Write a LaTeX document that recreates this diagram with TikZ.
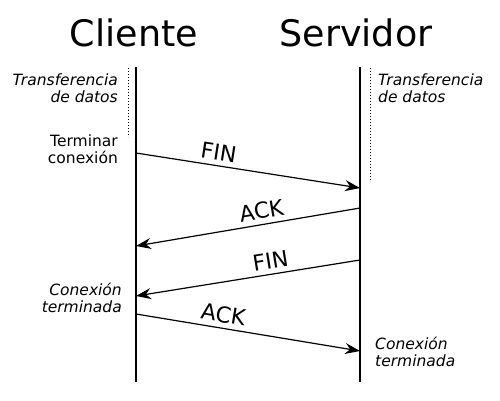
\documentclass[tikz,border=0pt]{standalone}
\usepackage{fontspec}
\setmainfont{DejaVu Sans}
\usetikzlibrary{arrows.meta}
\begin{document}
\begin{tikzpicture}[x=1pt,y=-1pt,
  title/.style={font=\fontsize{36.5}{40}\selectfont, inner sep=0pt},
  lbl/.style={font=\fontsize{15.5}{17}\selectfont\itshape, inner sep=0pt},
  lblup/.style={font=\fontsize{15.5}{17}\selectfont, inner sep=0pt},
  life/.style={line width=1.5pt},
  dots/.style={dotted, line width=1pt},
  msg/.style={line width=1.2pt, -{Stealth[length=15pt,width=11pt,inset=5pt]}},
  msglbl/.style={font=\fontsize{22}{26}\selectfont, sloped, above, inner sep=5pt}]
\useasboundingbox (0,0) rectangle (500,400);
\node[title] (cli) at (134,33) {Cliente};
\node[title] (srv) at (356,33) {Servidor};
\coordinate (ctop) at (136,67);
\coordinate (cbot) at (136,382);
\coordinate (stop) at (360,67);
\coordinate (sbot) at (360,382);
\draw[life] (ctop) -- (cbot);
\draw[life] (stop) -- (sbot);
\coordinate (dl1) at (128,68);
\coordinate (dl2) at (128,137);
\coordinate (dr1) at (370,68);
\coordinate (dr2) at (370,182);
\draw[dots] (dl1) -- (dl2);
\draw[dots] (dr1) -- (dr2);
\node[lbl, align=right, anchor=east] (tl) at (118,88) {Transferencia\\de datos};
\node[lbl, align=left, anchor=west] (tr) at (378,88) {Transferencia\\de datos};
\node[lblup, align=right, anchor=east] (term) at (118,149) {Terminar\\conexión};
\node[lbl, align=right, anchor=east] (cl) at (122,298) {Conexión\\terminada};
\node[lbl, align=left, anchor=west] (cr) at (375,352) {Conexión\\terminada};
\coordinate (c1) at (136,153);
\coordinate (s1) at (360,188);
\coordinate (s2) at (360,208);
\coordinate (c2) at (136,246);
\coordinate (s3) at (360,260);
\coordinate (c3) at (136,296);
\coordinate (c4) at (136,314);
\coordinate (s4) at (360,351);
\draw[msg] (c1) -- node[msglbl, pos=0.36] (f1) {FIN} (s1);
\draw[msg] (s2) -- node[msglbl, pos=0.43] (a1) {ACK} (c2);
\draw[msg] (s3) -- node[msglbl, pos=0.39] (f2) {FIN} (c3);
\draw[msg] (c4) -- node[msglbl, pos=0.38] (a2) {ACK} (s4);
\end{tikzpicture}
\end{document}
